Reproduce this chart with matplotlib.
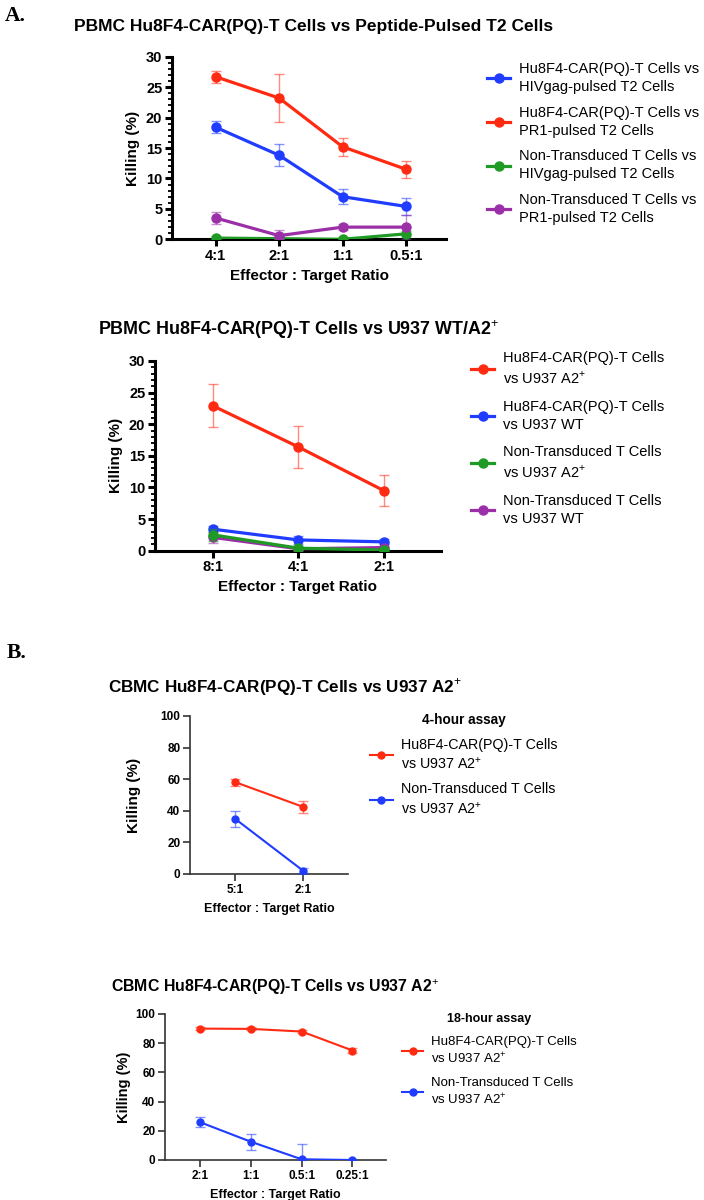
import matplotlib
matplotlib.use("Agg")
import matplotlib.pyplot as plt
import numpy as np

plt.rcParams["font.family"] = ["Liberation Sans", "DejaVu Sans"]
plt.rcParams["mathtext.fontset"] = "custom"
plt.rcParams["mathtext.rm"] = "Liberation Sans"

RED = "#ff2a12"
BLUE = "#1f3cff"
GREEN = "#1f9a24"
PURPLE = "#9a2fa8"

# ---- Panel A1: peptide-pulsed T2 cells ----
a1_ratios = ["4:1", "2:1", "1:1", "0.5:1"]
a1_labels = ["Hu8F4-CAR(PQ)-T Cells vs\nHIVgag-pulsed T2 Cells",
             "Hu8F4-CAR(PQ)-T Cells vs\nPR1-pulsed T2 Cells",
             "Non-Transduced T Cells vs\nHIVgag-pulsed T2 Cells",
             "Non-Transduced T Cells vs\nPR1-pulsed T2 Cells"]
a1_car_hiv = [18.4, 13.8, 7.0, 5.4]
a1_car_hiv_err = [1.0, 1.8, 1.2, 1.4]
a1_car_pr1 = [26.7, 23.2, 15.2, 11.5]
a1_car_pr1_err = [1.0, 3.9, 1.5, 1.4]
a1_nt_hiv = [0.2, 0.1, 0.0, 0.9]
a1_nt_hiv_err = [0.3, 0.3, 0.3, 0.4]
a1_nt_pr1 = [3.5, 0.6, 2.0, 2.0]
a1_nt_pr1_err = [0.95, 1.0, 0.5, 2.0]

# ---- Panel A2: U937 WT / A2+ ----
a2_ratios = ["8:1", "4:1", "2:1"]
a2_labels = ["Hu8F4-CAR(PQ)-T Cells\nvs U937 A2$^{+}$",
             "Hu8F4-CAR(PQ)-T Cells\nvs U937 WT",
             "Non-Transduced T Cells\nvs U937 A2$^{+}$",
             "Non-Transduced T Cells\nvs U937 WT"]
a2_car_a2 = [22.9, 16.4, 9.5]
a2_car_a2_err = [3.4, 3.25, 2.4]
a2_car_wt = [3.4, 1.7, 1.4]
a2_car_wt_err = [0.5, 0.6, 0.4]
a2_nt_a2 = [2.5, 0.4, 0.1]
a2_nt_a2_err = [1.0, 0.3, 0.3]
a2_nt_wt = [2.1, 0.3, 0.5]
a2_nt_wt_err = [0.9, 0.3, 0.3]

# ---- Panel B: CBMC, 4-hour and 18-hour ----
b_labels = ["Hu8F4-CAR(PQ)-T Cells\nvs U937 A2$^{+}$",
            "Non-Transduced T Cells\nvs U937 A2$^{+}$"]
b4_ratios = ["5:1", "2:1"]
b4_car = [58.2, 42.5]
b4_car_err = [2.2, 4.0]
b4_nt = [35.0, 2.1]
b4_nt_err = [5.0, 1.5]

b18_ratios = ["2:1", "1:1", "0.5:1", "0.25:1"]
b18_car = [90.0, 89.8, 88.0, 75.0]
b18_car_err = [1.0, 1.0, 1.0, 1.5]
b18_nt = [25.9, 12.5, 0.5, 0.0]
b18_nt_err = [3.3, 5.5, 10.4, 0.5]

W, H = 704, 1200
fig = plt.figure(figsize=(W / 100, H / 100), dpi=100)


def px_axes(x0, y0, x1, y1):
    """Axes from pixel box (top-left origin)."""
    return fig.add_axes([x0 / W, 1 - y1 / H, (x1 - x0) / W, (y1 - y0) / H])


def series(ax, y, err, color, label, lw, ms, z=3):
    x = np.arange(len(y))
    ax.errorbar(x, y, yerr=err, fmt="none", ecolor=color, elinewidth=1.0,
                capsize=3.5, capthick=1.0, alpha=0.55, zorder=z)
    ax.plot(x, y, color=color, lw=lw, marker="o", ms=ms, label=label, zorder=z + 0.5)


def style_axes(ax, ratios, xlim, ylim, yticks, spine_w, spine_c, tick_fs,
               minor=None):
    ax.set_xlim(*xlim)
    ax.set_ylim(*ylim)
    ax.set_xticks(range(len(ratios)))
    ax.set_xticklabels(ratios, fontweight="bold", fontsize=tick_fs)
    ax.set_yticks(yticks)
    ax.set_yticklabels([str(t) for t in yticks], fontweight="bold", fontsize=tick_fs)
    if minor is not None:
        ax.set_yticks(minor, minor=True)
        ax.tick_params(axis="y", which="minor", length=3, width=spine_w * 0.6,
                       color=spine_c)
    for s in ["top", "right"]:
        ax.spines[s].set_visible(False)
    for s in ["left", "bottom"]:
        ax.spines[s].set_linewidth(spine_w)
        ax.spines[s].set_color(spine_c)
    ax.tick_params(which="major", length=5, width=spine_w, color=spine_c, pad=2)
    ax.patch.set_alpha(0)


def add_legend(ax, x, y, fs, title=None, rowgap=1.0, order=None, ls=1.3):
    h, l = ax.get_legend_handles_labels()
    if order is not None:
        h = [h[i] for i in order]
        l = [l[i] for i in order]
    leg = ax.legend(h, l, loc="upper left", bbox_to_anchor=(x / W, 1 - y / H),
                    bbox_transform=fig.transFigure, frameon=False, fontsize=fs,
                    handlelength=1.6, handletextpad=0.6, labelspacing=rowgap,
                    borderpad=0, borderaxespad=0, title=title,
                    title_fontproperties={"weight": "bold", "size": fs - 0.5},
                    alignment="center")
    for t in leg.get_texts():
        t.set_linespacing(ls)
    return leg


# ================= Panel A1 =================
ax1 = px_axes(172, 56.7, 446, 239.3)
series(ax1, a1_car_hiv, a1_car_hiv_err, BLUE, a1_labels[0], 2.3, 6.5)
series(ax1, a1_car_pr1, a1_car_pr1_err, RED, a1_labels[1], 2.3, 6.5)
series(ax1, a1_nt_hiv, a1_nt_hiv_err, GREEN, a1_labels[2], 2.3, 6.5)
series(ax1, a1_nt_pr1, a1_nt_pr1_err, PURPLE, a1_labels[3], 2.3, 6.5)
style_axes(ax1, a1_ratios, (-0.69, 3.63), (0, 30), [0, 5, 10, 15, 20, 25, 30],
           2.2, "black", 10.5, minor=np.arange(0, 31, 1))
ax1.set_xlabel("Effector : Target Ratio", fontweight="bold", fontsize=11, labelpad=4)
ax1.set_ylabel("Killing (%)", fontweight="bold", fontsize=11, labelpad=4)
add_legend(ax1, 487, 62, 10.5, rowgap=0.8, ls=1.36)
fig.text(74 / W, 1 - 26 / H, "PBMC Hu8F4-CAR(PQ)-T Cells vs Peptide-Pulsed T2 Cells",
         fontweight="bold", fontsize=12.5, va="center", ha="left")
fig.text(5 / W, 1 - 16 / H, "A.", family="Liberation Serif", fontweight="bold",
         fontsize=15.5, va="center", ha="left")

# ================= Panel A2 =================
ax2 = px_axes(155, 361, 441, 550.7)
series(ax2, a2_car_a2, a2_car_a2_err, RED, a2_labels[0], 2.3, 6.5)
series(ax2, a2_car_wt, a2_car_wt_err, BLUE, a2_labels[1], 2.3, 6.5)
series(ax2, a2_nt_wt, a2_nt_wt_err, PURPLE, a2_labels[3], 2.3, 6.5, z=3)
series(ax2, a2_nt_a2, a2_nt_a2_err, GREEN, a2_labels[2], 2.3, 6.5, z=4)
style_axes(ax2, a2_ratios, (-0.68, 2.67), (0, 30), [0, 5, 10, 15, 20, 25, 30],
           2.2, "black", 10.5, minor=np.arange(0, 31, 1))
ax2.set_xlabel("Effector : Target Ratio", fontweight="bold", fontsize=11, labelpad=4)
ax2.set_ylabel("Killing (%)", fontweight="bold", fontsize=11, labelpad=4)
add_legend(ax2, 471, 351, 10.5, rowgap=0.9, order=[0, 1, 3, 2], ls=1.36)
fig.text(98 / W, 1 - 330 / H, "PBMC Hu8F4-CAR(PQ)-T Cells vs U937 WT/A2$^{+}$",
         fontweight="bold", fontsize=12.9, va="center", ha="left")

# ================= Panel B 4-hour =================
ax3 = px_axes(190, 716, 348, 874)
series(ax3, b4_car, b4_car_err, RED, b_labels[0], 1.5, 5)
series(ax3, b4_nt, b4_nt_err, BLUE, b_labels[1], 1.5, 5)
style_axes(ax3, b4_ratios, (-0.66, 1.66), (0, 100), [0, 20, 40, 60, 80, 100],
           1.2, "#333333", 8.5)
ax3.set_xlabel("Effector : Target Ratio", fontweight="bold", fontsize=9, labelpad=5)
ax3.set_ylabel("Killing (%)", fontweight="bold", fontsize=11, labelpad=14)
add_legend(ax3, 370, 713, 10.3, title="4-hour assay", rowgap=0.75, ls=1.3)
fig.text(108 / W, 1 - 687 / H, "CBMC Hu8F4-CAR(PQ)-T Cells vs U937 A2$^{+}$",
         fontweight="bold", fontsize=12.3, va="center", ha="left")
fig.text(7 / W, 1 - 653 / H, "B.", family="Liberation Serif", fontweight="bold",
         fontsize=15.5, va="center", ha="left")

# ================= Panel B 18-hour =================
ax4 = px_axes(165, 1014, 386, 1160)
series(ax4, b18_car, b18_car_err, RED, b_labels[0], 1.5, 5)
series(ax4, b18_nt, b18_nt_err, BLUE, b_labels[1], 1.5, 5)
style_axes(ax4, b18_ratios, (-0.69, 3.66), (0, 100), [0, 20, 40, 60, 80, 100],
           1.2, "#333333", 8.5)
ax4.set_xlabel("Effector : Target Ratio", fontweight="bold", fontsize=9, labelpad=5)
ax4.set_ylabel("Killing (%)", fontweight="bold", fontsize=10.5, labelpad=3)
add_legend(ax4, 402, 1013, 9.5, title="18-hour assay", rowgap=0.8, ls=1.3)
fig.text(111 / W, 1 - 987 / H, "CBMC Hu8F4-CAR(PQ)-T Cells vs U937 A2$^{+}$",
         fontweight="bold", fontsize=11.4, va="center", ha="left")

fig.savefig("out.png", dpi=100)
